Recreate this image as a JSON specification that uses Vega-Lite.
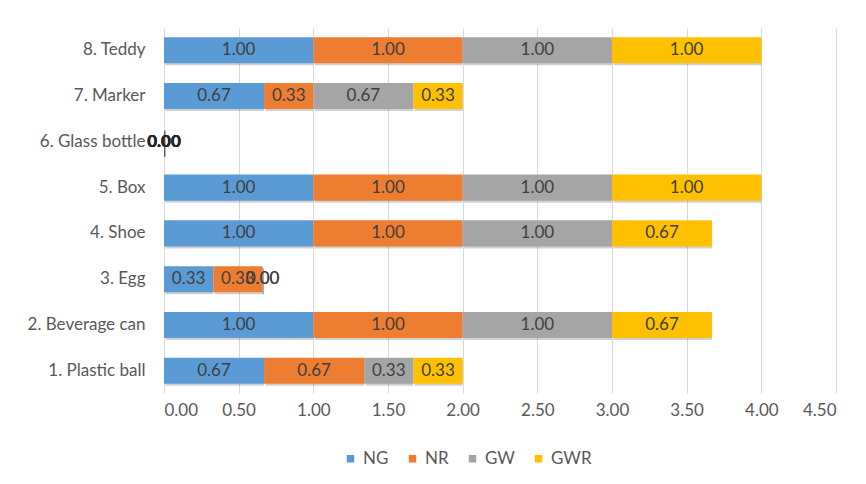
{
  "$schema": "https://vega.github.io/schema/vega-lite/v6.json",
  "width": 672,
  "height": 365,
  "autosize": {"type": "none"},
  "padding": {"left": 164, "top": 28, "right": 30, "bottom": 91},
  "background": "white",
  "config": {
    "view": {"stroke": null},
    "font": "Lato",
    "axis": {"labelFont": "Lato", "labelColor": "#595959", "labelFontSize": 17},
    "legend": {"labelFont": "Lato", "labelColor": "#595959", "labelFontSize": 17}
  },
  "data": {
    "values": [
      {"item": "8. Teddy", "series": "NG", "value": 1.0},
      {"item": "8. Teddy", "series": "NR", "value": 1.0},
      {"item": "8. Teddy", "series": "GW", "value": 1.0},
      {"item": "8. Teddy", "series": "GWR", "value": 1.0},
      {"item": "7. Marker", "series": "NG", "value": 0.67},
      {"item": "7. Marker", "series": "NR", "value": 0.33},
      {"item": "7. Marker", "series": "GW", "value": 0.67},
      {"item": "7. Marker", "series": "GWR", "value": 0.33},
      {"item": "6. Glass bottle", "series": "NG", "value": 0.0},
      {"item": "6. Glass bottle", "series": "NR", "value": 0.0},
      {"item": "6. Glass bottle", "series": "GW", "value": 0.0},
      {"item": "6. Glass bottle", "series": "GWR", "value": 0.0},
      {"item": "5. Box", "series": "NG", "value": 1.0},
      {"item": "5. Box", "series": "NR", "value": 1.0},
      {"item": "5. Box", "series": "GW", "value": 1.0},
      {"item": "5. Box", "series": "GWR", "value": 1.0},
      {"item": "4. Shoe", "series": "NG", "value": 1.0},
      {"item": "4. Shoe", "series": "NR", "value": 1.0},
      {"item": "4. Shoe", "series": "GW", "value": 1.0},
      {"item": "4. Shoe", "series": "GWR", "value": 0.67},
      {"item": "3. Egg", "series": "NG", "value": 0.33},
      {"item": "3. Egg", "series": "NR", "value": 0.33},
      {"item": "3. Egg", "series": "GW", "value": 0.0},
      {"item": "3. Egg", "series": "GWR", "value": 0.0},
      {"item": "2. Beverage can", "series": "NG", "value": 1.0},
      {"item": "2. Beverage can", "series": "NR", "value": 1.0},
      {"item": "2. Beverage can", "series": "GW", "value": 1.0},
      {"item": "2. Beverage can", "series": "GWR", "value": 0.67},
      {"item": "1. Plastic ball", "series": "NG", "value": 0.67},
      {"item": "1. Plastic ball", "series": "NR", "value": 0.67},
      {"item": "1. Plastic ball", "series": "GW", "value": 0.33},
      {"item": "1. Plastic ball", "series": "GWR", "value": 0.33}
    ]
  },
  "transform": [
    {"calculate": "indexof(['NG','NR','GW','GWR'], datum.series)", "as": "k"},
    {"stack": "value", "groupby": ["item"], "sort": [{"field": "k", "order": "ascending"}], "as": ["x0", "x1"]},
    {"joinaggregate": [{"op": "sum", "field": "value", "as": "total"}], "groupby": ["item"]},
    {"calculate": "(datum.x0 + datum.x1) / 2", "as": "mid"}
  ],
  "encoding": {
    "y": {
      "field": "item",
      "type": "nominal",
      "sort": ["8. Teddy", "7. Marker", "6. Glass bottle", "5. Box", "4. Shoe", "3. Egg", "2. Beverage can", "1. Plastic ball"],
      "scale": {"paddingInner": 0.43, "paddingOuter": 0.2},
      "axis": {"title": null, "ticks": false, "domain": false, "labelPadding": 19}
    }
  },
  "layer": [
    {
      "mark": {"type": "bar", "color": "#000000", "opacity": 0.18, "xOffset": 1.5, "yOffset": 2},
      "encoding": {
        "x": {"field": "x0", "type": "quantitative"},
        "x2": {"field": "x1"}
      }
    },
    {
      "mark": {"type": "bar"},
      "encoding": {
        "x": {
          "field": "x0",
          "type": "quantitative",
          "scale": {"domain": [0, 4.5], "nice": false},
          "axis": {
            "title": null,
            "values": [0, 0.5, 1, 1.5, 2, 2.5, 3, 3.5, 4, 4.5],
            "format": ".2f",
            "grid": true,
            "gridColor": "#D9D9D9",
            "domain": false,
            "ticks": false,
            "labelPadding": 9
          }
        },
        "x2": {"field": "x1"},
        "color": {
          "field": "series",
          "type": "nominal",
          "scale": {"domain": ["NG", "NR", "GW", "GWR"], "range": ["#5B9BD5", "#ED7D31", "#A5A5A5", "#FFC000"]},
          "legend": {
            "title": null,
            "orient": "none",
            "legendX": 178,
            "legendY": 422,
            "direction": "horizontal",
            "symbolType": "square",
            "symbolSize": 56,
            "symbolStrokeWidth": 0,
            "labelOffset": 4,
            "columnPadding": 15
          }
        }
      }
    },
    {
      "transform": [{"filter": "datum.total > 0"}],
      "mark": {"type": "text", "color": "#404040", "fontSize": 17, "baseline": "middle"},
      "encoding": {
        "x": {"field": "mid", "type": "quantitative"},
        "text": {"field": "value", "type": "quantitative", "format": ".2f"}
      }
    },
    {
      "transform": [{"filter": "datum.total == 0"}],
      "mark": {"type": "text", "color": "#262626", "fontSize": 17, "fontWeight": "bold", "baseline": "middle"},
      "encoding": {
        "x": {"field": "mid", "type": "quantitative"},
        "text": {"field": "value", "type": "quantitative", "format": ".2f"}
      }
    }
  ]
}
